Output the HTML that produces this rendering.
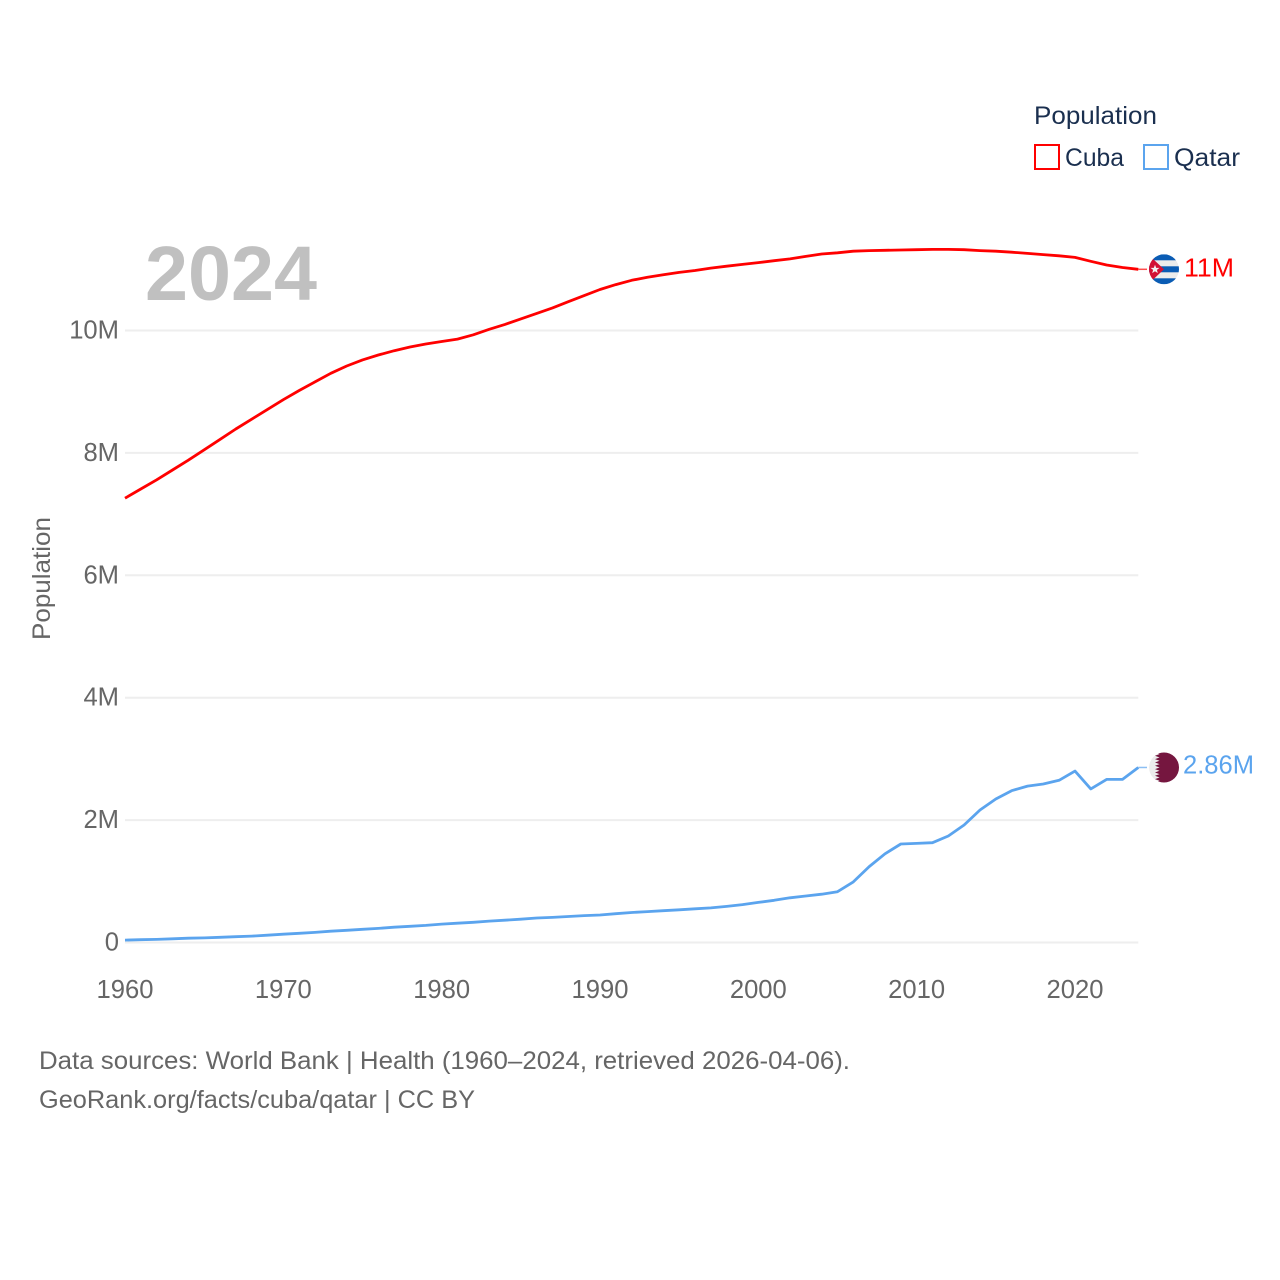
<!DOCTYPE html>
<html lang="en">
<head>
<meta charset="utf-8">
<title>Population: Cuba and Qatar</title>
<style>
html,body{margin:0;padding:0;background:#fff;width:1280px;height:1280px;overflow:hidden}
svg{display:block}
text{font-family:"Liberation Sans",sans-serif}
</style>
</head>
<body>
<svg id="chart" xmlns="http://www.w3.org/2000/svg" width="1280" height="1280" viewBox="0 0 1280 1280">
  <defs>
    <clipPath id="flag-clip"><circle cx="0" cy="0" r="15"></circle></clipPath>
  </defs>
  <g id="grid"></g>
  <text x="145" y="300" font-size="77" font-weight="700" fill="#c0c0c0" textLength="172" lengthAdjust="spacingAndGlyphs">2024</text>
  <g id="yticks"></g>
  <g id="xticks"></g>
  <text transform="translate(50,640) rotate(-90)" font-size="25" fill="#666666" textLength="123" lengthAdjust="spacingAndGlyphs">Population</text>
  <g id="series"></g>
  <g id="flag-cuba" clip-path="url(#flag-clip)">
    <circle cx="0" cy="0" r="15" fill="#ececec"></circle>
    <rect x="-15" y="-15" width="30" height="6" fill="#0a5cb4"></rect>
    <rect x="-15" y="-3" width="30" height="6" fill="#0a5cb4"></rect>
    <rect x="-15" y="9" width="30" height="6" fill="#0a5cb4"></rect>
    <polygon points="-16,-15 0,0 -16,15" fill="#d21034"></polygon>
    <polygon points="-9,-4.5 -7.8,-1.4 -4.5,-1.4 -7.1,0.6 -6.2,3.8 -9,1.9 -11.8,3.8 -10.9,0.6 -13.5,-1.4 -10.2,-1.4" fill="#f2f2f2"></polygon>
  </g>
  <g id="flag-qatar" clip-path="url(#flag-clip)">
    <circle cx="0" cy="0" r="15" fill="#ececec"></circle>
    <polygon points="-9,-15 15,-15 15,15 -9,15 -4.5,13.33 -9,11.67 -4.5,10 -9,8.33 -4.5,6.67 -9,5 -4.5,3.33 -9,1.67 -4.5,0 -9,-1.67 -4.5,-3.33 -9,-5 -4.5,-6.67 -9,-8.33 -4.5,-10 -9,-11.67 -4.5,-13.33" fill="#75163f"></polygon>
  </g>
  <g id="end-labels"></g>
  <g>
    <text x="1034" y="124" font-size="25" fill="#1a2f4f" textLength="123" lengthAdjust="spacingAndGlyphs">Population</text>
    <g>
      <rect x="1035" y="145" width="24" height="24" fill="none" stroke="#ff0000" stroke-width="2"></rect>
      <text x="1065" y="166" font-size="25" fill="#1a2f4f" textLength="59" lengthAdjust="spacingAndGlyphs">Cuba</text>
    </g>
    <g>
      <rect x="1144" y="145" width="24" height="24" fill="none" stroke="#5ba4ee" stroke-width="2"></rect>
      <text x="1174" y="166" font-size="25" fill="#1a2f4f" textLength="66" lengthAdjust="spacingAndGlyphs">Qatar</text>
    </g>
  </g>
  <g>
    <text x="39" y="1069" font-size="25" fill="#666666" textLength="811" lengthAdjust="spacingAndGlyphs">Data sources: World Bank | Health (1960–2024, retrieved 2026-04-06).</text>
    <text x="39" y="1108" font-size="25" fill="#666666" textLength="436" lengthAdjust="spacingAndGlyphs">GeoRank.org/facts/cuba/qatar | CC BY</text>
  </g>
</svg>
<script>
const years = [1960,1961,1962,1963,1964,1965,1966,1967,1968,1969,1970,1971,1972,1973,1974,1975,1976,1977,1978,1979,1980,1981,1982,1983,1984,1985,1986,1987,1988,1989,1990,1991,1992,1993,1994,1995,1996,1997,1998,1999,2000,2001,2002,2003,2004,2005,2006,2007,2008,2009,2010,2011,2012,2013,2014,2015,2016,2017,2018,2019,2020,2021,2022,2023,2024];
const cubaValues = [7.26,7.41,7.56,7.72,7.88,8.05,8.22,8.39,8.55,8.71,8.87,9.02,9.16,9.30,9.42,9.52,9.60,9.67,9.73,9.78,9.82,9.86,9.93,10.02,10.10,10.19,10.28,10.37,10.47,10.57,10.67,10.75,10.82,10.87,10.91,10.95,10.98,11.02,11.05,11.08,11.11,11.14,11.17,11.21,11.25,11.27,11.295,11.305,11.31,11.315,11.32,11.325,11.325,11.32,11.305,11.295,11.28,11.26,11.24,11.22,11.195,11.13,11.07,11.03,11.00];
const qatarValues = [0.04,0.045,0.05,0.06,0.07,0.075,0.085,0.095,0.105,0.12,0.135,0.15,0.165,0.185,0.20,0.215,0.23,0.25,0.265,0.28,0.30,0.315,0.33,0.35,0.365,0.38,0.40,0.41,0.425,0.44,0.45,0.47,0.49,0.505,0.52,0.535,0.55,0.565,0.59,0.62,0.655,0.69,0.73,0.76,0.79,0.83,0.99,1.24,1.45,1.61,1.62,1.63,1.74,1.92,2.165,2.345,2.48,2.556,2.59,2.65,2.80,2.51,2.665,2.665,2.86];
const yTickValues = [0,2,4,6,8,10];
const yTickLabels = ["0","2M","4M","6M","8M","10M"];
const xTickValues = [1960,1970,1980,1990,2000,2010,2020];
const endLabels = ["11M","2.86M"];

const NS = "http://www.w3.org/2000/svg";
function xScale(year){ return 125 + (year - 1960) * 15.833; }
function yScale(v){ return 942.5 - v * 61.2; }
function make(tag, attrs, parent){
  const el = document.createElementNS(NS, tag);
  for (const k in attrs) el.setAttribute(k, attrs[k]);
  parent.appendChild(el);
  return el;
}

const grid = document.getElementById('grid');
const yticks = document.getElementById('yticks');
yTickValues.forEach(function(v, i){
  const line = make('line', {x1:125, x2:xScale(2024), y1:yScale(v), y2:yScale(v), stroke:'#eeeeee', 'stroke-width':2}, grid);
  
  
  const t = make('text', {x:119, y:yScale(v)+8, 'text-anchor':'end', 'font-size':25.6, fill:'#666666'}, yticks);
  
  
  t.textContent = yTickLabels[i];
});

const xticks = document.getElementById('xticks');
xTickValues.forEach(function(yr){
  const t = make('text', {x:xScale(yr), y:998, 'text-anchor':'middle', 'font-size':25.6, fill:'#666666'}, xticks);
  
  
  t.textContent = yr;
});

const series = document.getElementById('series');
function drawSeries(values, color, name){
  const pts = values.map(function(v, i){ return xScale(years[i]).toFixed(1) + ',' + yScale(v).toFixed(1); }).join(' ');
  const line = make('polyline', {points:pts, fill:'none', stroke:color, 'stroke-width':2.8, 'stroke-linejoin':'round'}, series);
  
  
  const last = yScale(values[values.length - 1]);
  const conn = make('line', {x1:xScale(2024), x2:1147, y1:last, y2:last, stroke:color, 'stroke-width':1.5, 'stroke-opacity':0.7}, series);
  
  
  return last;
}
const cubaEnd = drawSeries(cubaValues, '#ff0000', 'cuba-line');
const qatarEnd = drawSeries(qatarValues, '#5ba4ee', 'qatar-line');

document.getElementById('flag-cuba').setAttribute('transform', 'translate(1164,' + cubaEnd + ')');
document.getElementById('flag-qatar').setAttribute('transform', 'translate(1164,' + qatarEnd + ')');

const endGroup = document.getElementById('end-labels');
const cubaLabel = make('text', {x:1184, y:cubaEnd+7, 'font-size':25.6, fill:'#ff0000', textLength:50, lengthAdjust:'spacingAndGlyphs'}, endGroup);


cubaLabel.textContent = endLabels[0];
const qatarLabel = make('text', {x:1183, y:qatarEnd+6, 'font-size':25.6, fill:'#5ba4ee', textLength:71, lengthAdjust:'spacingAndGlyphs'}, endGroup);


qatarLabel.textContent = endLabels[1];
</script>
</body>
</html>
